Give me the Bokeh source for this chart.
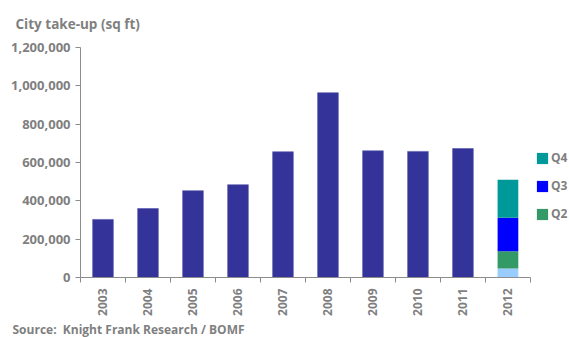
from bokeh.plotting import figure
from bokeh.models import (Range1d, FixedTicker, NumeralTickFormatter, Title,
                          Legend, LegendItem, ColumnDataSource)
from bokeh.embed import file_html
from bokeh.resources import INLINE
import math

# ---- data ----
years = ["2003", "2004", "2005", "2006", "2007", "2008", "2009", "2010", "2011", "2012"]
annual_takeup = [303000, 360000, 453000, 484000, 656000, 964000, 661000, 658000, 673000]
q2012_labels = ["Q1", "Q2", "Q3", "Q4"]
q2012_values = [47000, 90000, 175000, 198000]
y_ticks = [0, 200000, 400000, 600000, 800000, 1000000, 1200000]

GREY = "#7f7f7f"
FONT = "Open Sans"
BAR = "#333399"
Q_COLORS = ["#99ccff", "#339966", "#0000ff", "#009999"]

n = len(years)
p = figure(width=569, height=337, output_backend="svg", toolbar_location=None,
           x_range=Range1d(0.5, n + 0.5 + 39 / 44.93), y_range=Range1d(0, 1200000),
           min_border_left=80, min_border_right=0, min_border_top=47,
           min_border_bottom=60)
p.outline_line_color = None
p.grid.visible = False
p.background_fill_color = "white"
p.border_fill_color = "white"

xs = list(range(1, n + 1))
src = ColumnDataSource(dict(x=xs[:len(annual_takeup)], top=annual_takeup))
p.vbar(x="x", top="top", width=0.46, source=src, fill_color=BAR, line_color="#5555aa",
       line_width=0.6)

stack_src = ColumnDataSource(dict(x=[xs[-1]], **{q: [v] for q, v in zip(q2012_labels, q2012_values)}))
rs = p.vbar_stack(q2012_labels, x="x", width=0.46, source=stack_src,
                  fill_color=Q_COLORS, line_color=None)

# axes
yax = p.yaxis[0]
yax.ticker = FixedTicker(ticks=y_ticks)
yax.formatter = NumeralTickFormatter(format="0,0")
yax.axis_line_color = "#8c8c8c"
yax.major_tick_line_color = "#8c8c8c"
yax.major_tick_out = 5
yax.major_tick_in = 0
yax.minor_tick_line_color = None
yax.major_label_text_font = FONT
yax.major_label_text_font_style = "bold"
yax.major_label_text_font_size = "13px"
yax.major_label_text_color = GREY
yax.major_label_standoff = 5

xax = p.xaxis[0]
xax.bounds = (0.5, n + 0.5)
xax.ticker = FixedTicker(ticks=xs, minor_ticks=[x - 0.5 for x in xs] + [xs[-1] + 0.5])
xax.major_label_overrides = {x: y for x, y in zip(xs, years)}
xax.major_label_orientation = math.pi / 2
xax.axis_line_color = "#8c8c8c"
xax.major_tick_line_color = None
xax.major_tick_out = 0
xax.major_tick_in = 0
xax.minor_tick_line_color = "#8c8c8c"
xax.minor_tick_out = 5
xax.minor_tick_in = 0
xax.major_label_text_font = FONT
xax.major_label_text_font_style = "bold"
xax.major_label_text_font_size = "12px"
xax.major_label_text_color = GREY
xax.major_label_standoff = 6

# title and source
p.title.text = "City take-up (sq ft)"
p.title.align = "left"
p.title.vertical_align = "top"
p.title.offset = -65
p.title.standoff = 25
p.title.text_line_height = 1.0
p.title.text_font = FONT
p.title.text_font_style = "bold"
p.title.text_font_size = "13.5px"
p.title.text_color = GREY
p.add_layout(Title(text="Source: \u00a0Knight Frank Research / BOMF", align="left", offset=-68,
                   standoff=0, text_font=FONT, text_font_style="bold", text_line_height=1.0,
                   text_font_size="12px", text_color=GREY), "below")

# legend (Q4, Q3, Q2)
items = [LegendItem(label=q2012_labels[i], renderers=[rs[i]]) for i in (3, 2, 1)]
legend = Legend(items=items, location=(455, 55), orientation="vertical",
                background_fill_alpha=0, border_line_color=None,
                glyph_width=14, glyph_height=14, label_height=14, spacing=11,
                padding=0, margin=0, label_standoff=2,
                label_text_font=FONT, label_text_font_style="bold",
                label_text_font_size="12px", label_text_color=GREY)
p.add_layout(legend)

open("out.html", "w").write(file_html(p, INLINE))
